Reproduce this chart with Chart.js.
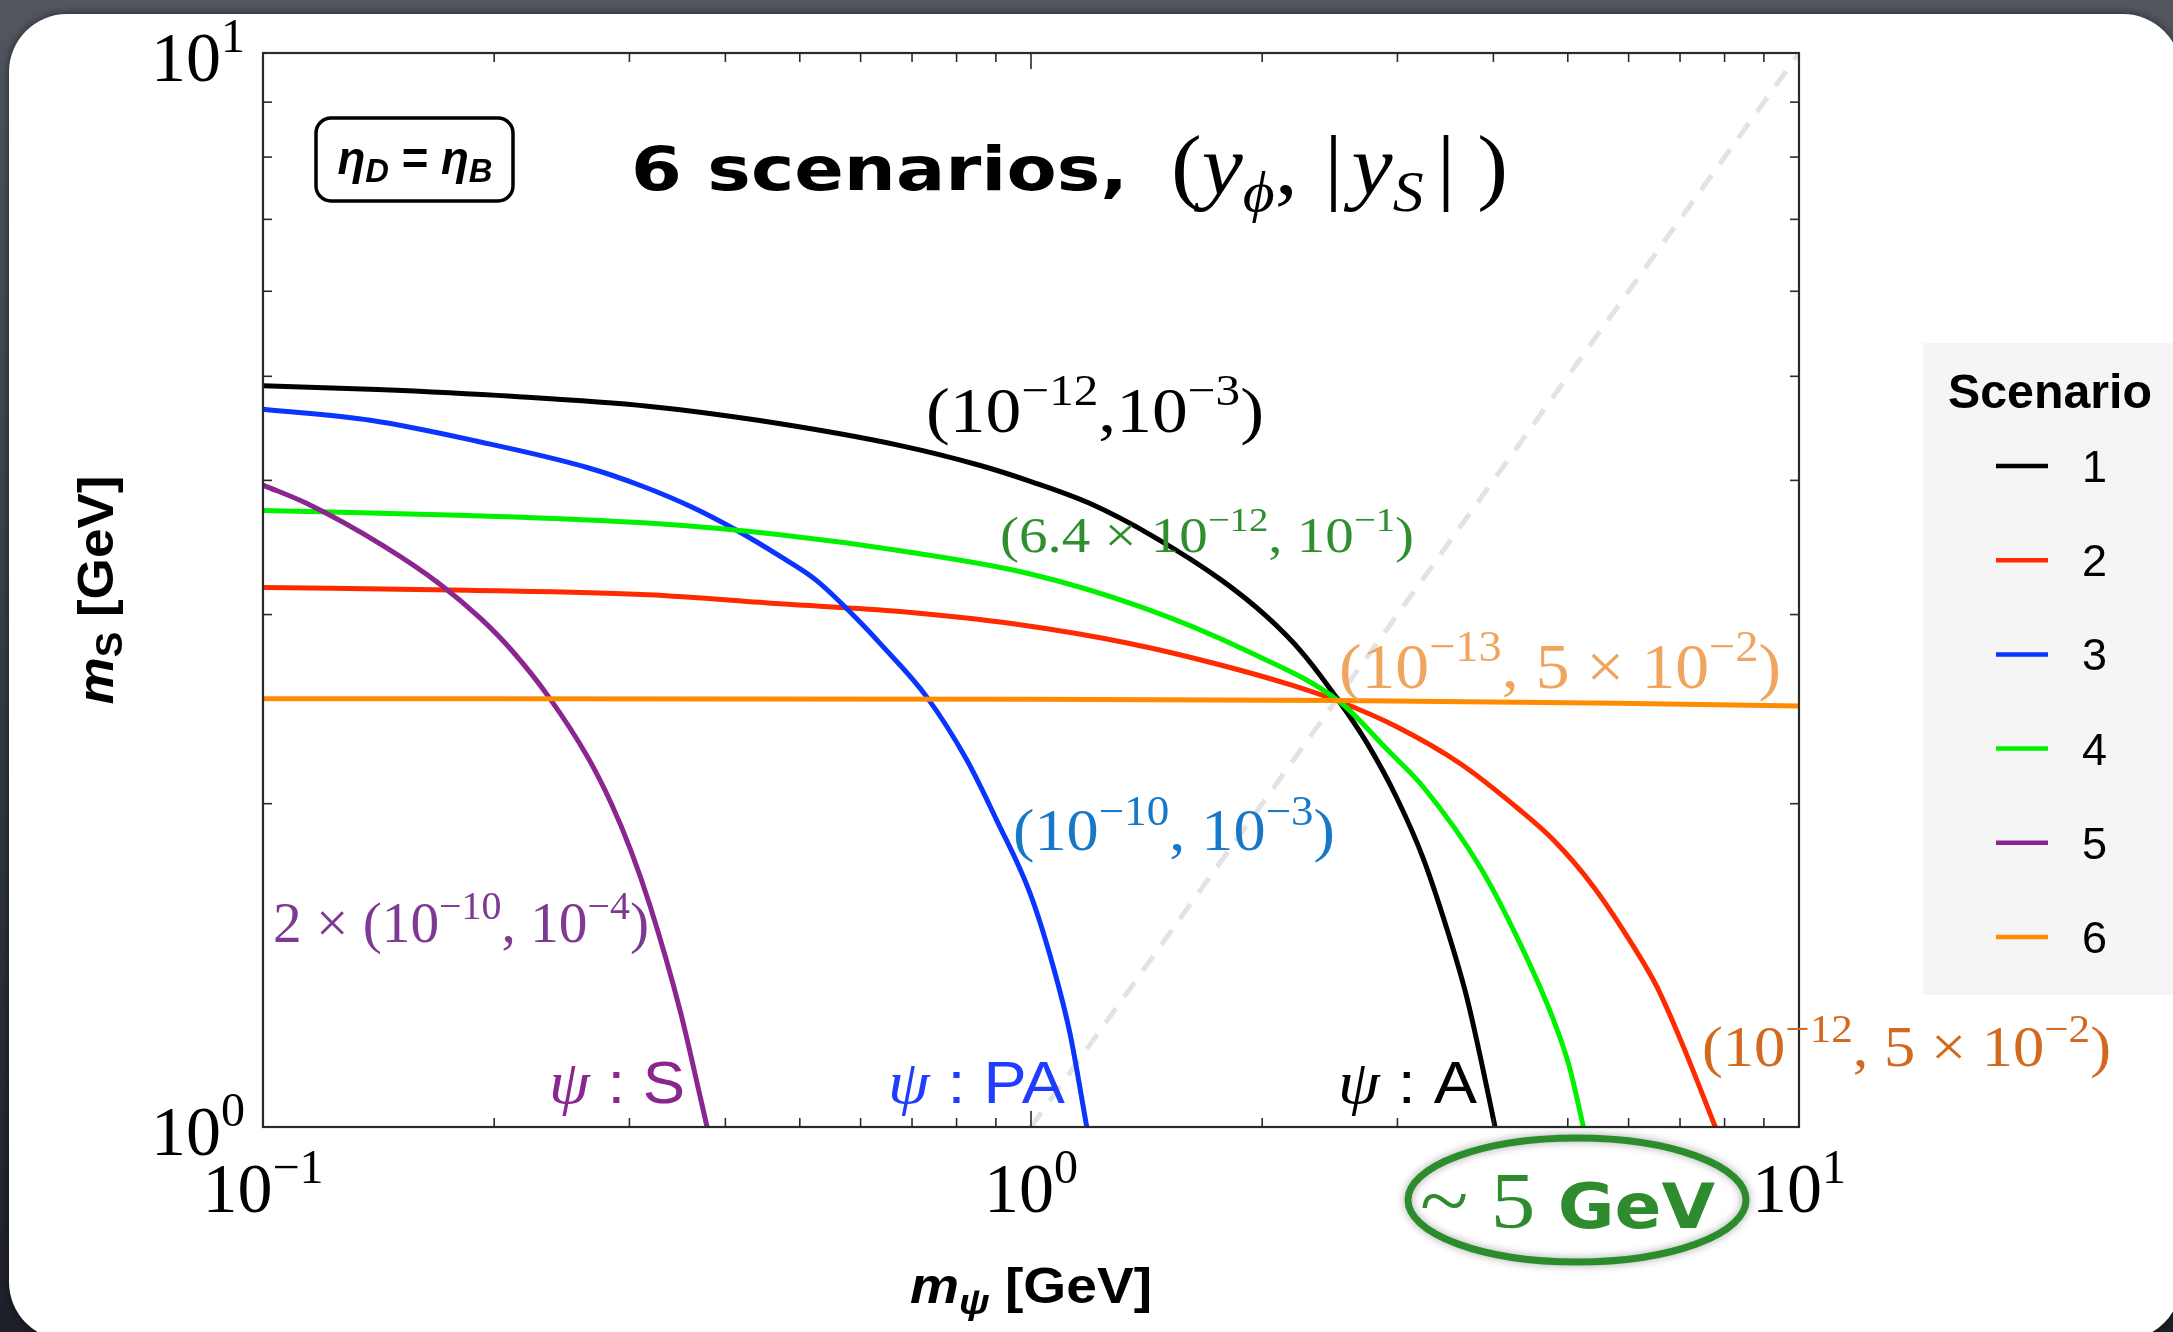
<!DOCTYPE html>
<html>
<head>
<meta charset="utf-8">
<script src="https://cdn.jsdelivr.net/npm/chart.js@4.4.1/dist/chart.umd.min.js"></script>
<style>
  html, body { margin: 0; padding: 0; background: #2c3038; overflow: hidden; }
  canvas { display: block; }
</style>
</head>
<body>
<canvas id="c" width="2173" height="1332"></canvas>
<script>
// Curves of m_S versus m_psi (both in GeV) for the six coupling scenarios
const s1X = [0.1, 0.141, 0.211, 0.317, 0.441, 0.676, 0.859, 1.0, 1.19, 1.44, 1.77, 2.03, 2.25, 2.52, 2.74, 2.99, 3.24, 3.48, 3.69, 3.86, 4.02];
const s1Y = [4.90, 4.86, 4.79, 4.69, 4.55, 4.31, 4.13, 3.99, 3.81, 3.55, 3.23, 2.985, 2.77, 2.49, 2.276, 2.029, 1.78, 1.529, 1.324, 1.149, 1.0];

const s2X = [0.1, 0.185, 0.317, 0.471, 0.676, 0.953, 1.344, 1.74, 2.18, 2.52, 2.99, 3.62, 4.33, 4.79, 5.40, 6.09, 6.53, 7.07, 7.78];
const s2Y = [3.18, 3.16, 3.13, 3.07, 3.02, 2.94, 2.82, 2.70, 2.58, 2.49, 2.36, 2.18, 1.973, 1.85, 1.674, 1.472, 1.351, 1.188, 1.0];

const s3X = [0.1, 0.138, 0.19, 0.265, 0.312, 0.361, 0.412, 0.471, 0.525, 0.608, 0.636, 0.731, 0.825, 0.902, 0.997, 1.069, 1.124, 1.182];
const s3Y = [4.66, 4.55, 4.35, 4.11, 3.95, 3.78, 3.60, 3.40, 3.23, 2.92, 2.82, 2.516, 2.196, 1.931, 1.651, 1.41, 1.222, 1.0];

const s4X = [0.1, 0.185, 0.317, 0.471, 0.676, 0.986, 1.39, 1.90, 2.52, 2.92, 3.24, 3.84, 4.33, 4.79, 5.02, 5.24];
const s4Y = [3.75, 3.71, 3.65, 3.56, 3.44, 3.28, 3.05, 2.78, 2.49, 2.24, 2.074, 1.748, 1.483, 1.258, 1.14, 1.0];

const s5X = [0.1, 0.1141, 0.1433, 0.1705, 0.1923, 0.211, 0.235, 0.265, 0.2838, 0.3014, 0.3191, 0.3491, 0.3717, 0.3786];
const s5Y = [3.96, 3.806, 3.478, 3.197, 2.972, 2.776, 2.52, 2.207, 2.004, 1.808, 1.607, 1.285, 1.06, 1.0];

const s6X = [0.1, 1, 2.52, 5, 10, 10.2];
const s6Y = [2.505, 2.502, 2.495, 2.483, 2.466, 2.465];

// m_S = m_psi reference line
const diagX = [1, 10];
const diagY = [1, 10];

const scenarioNames = ['1', '2', '3', '4', '5', '6'];
const scenarioColors = ['#000000', '#ff2a00', '#0a35ff', '#00f200', '#8b2590', '#ff8c00'];

// Decade tick labels (10^exponent)
const xTickValues = [0.1, 1, 10];
const xTickExps = ['\u22121', '0', '1'];
const yTickValues = [1, 10];
const yTickExps = ['0', '1'];

const SERIF = '"Liberation Serif", "Times New Roman", serif';
const SANS = '"Liberation Sans", Arial, sans-serif';
const HAND = '"DejaVu Sans", sans-serif';

function pts(xs, ys) { return xs.map((x, i) => ({ x: x, y: ys[i] })); }

// Draw a run of text pieces (with sub/superscripts) from a baseline point,
// optionally squeezed to a given total width.
function drawParts(ctx, parts, x, y, o) {
  o = o || {};
  ctx.save();
  let w = 0;
  for (const p of parts) {
    ctx.font = p.f;
    p.w = ctx.measureText(p.t).width + (p.gap || 0);
    w += p.w;
  }
  const sx = o.width ? o.width / w : 1;
  const tw = w * sx;
  ctx.translate(x, y);
  if (o.rotate) ctx.rotate(o.rotate);
  const x0 = o.align === 'center' ? -tw / 2 : (o.align === 'right' ? -tw : 0);
  ctx.translate(x0, 0);
  ctx.scale(sx, 1);
  ctx.textAlign = 'left';
  ctx.textBaseline = 'alphabetic';
  let cx = 0;
  for (const p of parts) {
    ctx.font = p.f;
    ctx.fillStyle = p.c || o.color || '#000';
    ctx.fillText(p.t, cx, p.dy || 0);
    cx += p.w;
  }
  ctx.restore();
}

const F = (size, fam, style) => (style ? style + ' ' : '') + size + 'px ' + fam;

// "(10^a, 10^b)"-style coupling labels
function coupling(pre, e1, mid, e2, post, main, sup, raise) {
  return [
    { t: pre, f: F(main, SERIF) },
    { t: e1, f: F(sup, SERIF), dy: -raise },
    { t: mid, f: F(main, SERIF) },
    { t: e2, f: F(sup, SERIF), dy: -raise },
    { t: post, f: F(main, SERIF) }
  ];
}

const decor = {
  id: 'decor',
  beforeDraw(chart) {
    const ctx = chart.ctx;
    const W = chart.width, H = chart.height;
    ctx.save();
    const g = ctx.createLinearGradient(0, 0, 0, H);
    g.addColorStop(0, '#51565f');
    g.addColorStop(1, '#1d2028');
    ctx.fillStyle = g;
    ctx.fillRect(0, 0, W, H);
    ctx.shadowColor = 'rgba(0,0,0,0.55)';
    ctx.shadowBlur = 8;
    ctx.fillStyle = '#ffffff';
    ctx.beginPath();
    ctx.roundRect(9, 14, 2172, 1326, 58);
    ctx.fill();
    ctx.restore();
  },
  afterDatasetsDraw(chart) {
    const ctx = chart.ctx;
    const a = chart.chartArea;
    const xs = chart.scales.x, ys = chart.scales.y;
    ctx.save();

    // frame ticks (inward, on all four sides)
    const line = (x1, y1, x2, y2) => { ctx.beginPath(); ctx.moveTo(x1, y1); ctx.lineTo(x2, y2); ctx.stroke(); };
    ctx.strokeStyle = '#2a2a2a';
    ctx.lineWidth = 1.6;
    for (const d of [0.1, 1]) {
      for (let k = 2; k <= 9; k++) {
        const px = xs.getPixelForValue(d * k);
        line(px, a.bottom, px, a.bottom - 9);
        line(px, a.top, px, a.top + 9);
      }
    }
    for (const v of xTickValues) {
      const px = xs.getPixelForValue(v);
      line(px, a.bottom, px, a.bottom - 16);
      line(px, a.top, px, a.top + 16);
    }
    for (let k = 2; k <= 9; k++) {
      const py = ys.getPixelForValue(k);
      line(a.left, py, a.left + 9, py);
      line(a.right, py, a.right - 9, py);
    }
    ctx.lineWidth = 2.2;
    ctx.strokeRect(a.left, a.top, a.right - a.left, a.bottom - a.top);

    // tick labels
    xTickValues.forEach((v, i) => {
      drawParts(ctx, [
        { t: '10', f: F(70, SERIF) },
        { t: xTickExps[i], f: F(48, SERIF), dy: -29 }
      ], xs.getPixelForValue(v), a.bottom + 85, { align: 'center' });
    });
    yTickValues.forEach((v, i) => {
      drawParts(ctx, [
        { t: '10', f: F(70, SERIF) },
        { t: yTickExps[i], f: F(48, SERIF), dy: -29 }
      ], a.left - 18, ys.getPixelForValue(v) + 28, { align: 'right' });
    });

    // axis titles
    drawParts(ctx, [
      { t: 'm', f: F(50, SANS, 'italic bold') },
      { t: '\u03c8', f: F(36, SANS, 'italic bold'), dy: 11 },
      { t: ' [GeV]', f: F(50, SANS, 'bold') }
    ], (a.left + a.right) / 2, 1303, { align: 'center', width: 242 });
    drawParts(ctx, [
      { t: 'm', f: F(50, SANS, 'italic bold') },
      { t: 'S', f: F(36, SANS, 'bold'), dy: 9 },
      { t: ' [GeV]', f: F(50, SANS, 'bold') }
    ], 113, (a.top + a.bottom) / 2, { align: 'center', width: 229, rotate: -Math.PI / 2 });

    // title
    drawParts(ctx, [{ t: '6 scenarios,', f: F(60, HAND, 'bold') }], 631, 190, { width: 497 });
    drawParts(ctx, [
      { t: '(', f: F(84, SERIF) },
      { t: 'y', f: F(84, SERIF, 'italic') },
      { t: '\u03d5', f: F(56, SERIF, 'italic'), dy: 17 },
      { t: ',', f: F(84, SERIF), gap: 24 },
      { t: '|', f: F(84, SERIF), gap: 8 },
      { t: 'y', f: F(84, SERIF, 'italic') },
      { t: 'S', f: F(56, SERIF, 'italic'), dy: 17, gap: 12 },
      { t: '|', f: F(84, SERIF), gap: 20 },
      { t: ')', f: F(84, SERIF) }
    ], 1171, 194, { width: 337 });

    // eta box
    ctx.lineWidth = 3.5;
    ctx.strokeStyle = '#000';
    ctx.beginPath();
    ctx.roundRect(316, 118, 197, 83, 15);
    ctx.stroke();
    drawParts(ctx, [
      { t: '\u03b7', f: F(46, SANS, 'italic bold') },
      { t: 'D', f: F(33, SANS, 'italic bold'), dy: 8 },
      { t: ' = ', f: F(46, SANS, 'bold') },
      { t: '\u03b7', f: F(46, SANS, 'italic bold') },
      { t: 'B', f: F(33, SANS, 'italic bold'), dy: 8 }
    ], 415, 174, { align: 'center', width: 155 });

    // coupling labels next to the curves
    const M = '\u2212';
    drawParts(ctx, coupling('(10', M + '12', ',10', M + '3', ')', 64, 44, 27), 926, 432, { width: 338, color: '#000' });
    drawParts(ctx, coupling('(6.4 \u00d7 10', M + '12', ', 10', M + '1', ')', 50, 34, 21), 1000, 552, { width: 414, color: '#2f8f2f' });
    drawParts(ctx, coupling('(10', M + '13', ', 5 \u00d7 10', M + '2', ')', 64, 44, 27), 1339, 688, { width: 442, color: '#f0a55e' });
    drawParts(ctx, coupling('(10', M + '10', ', 10', M + '3', ')', 60, 42, 25), 1013, 850, { width: 322, color: '#1878c8' });
    drawParts(ctx, coupling('2 \u00d7 (10', M + '10', ', 10', M + '4', ')', 56, 39, 23), 273, 942, { width: 376, color: '#7e3a92' });
    drawParts(ctx, coupling('(10', M + '12', ', 5 \u00d7 10', M + '2', ')', 58, 40, 24), 1702, 1066, { width: 409, color: '#d2691e' });

    // particle-type labels
    const psi = (tail, x, w, c) => drawParts(ctx, [
      { t: '\u03c8', f: F(62, SERIF, 'italic') },
      { t: ' : ', f: F(60, SANS) },
      { t: tail, f: F(60, SANS) }
    ], x, 1103, { width: w, color: c });
    psi('S', 549, 136, '#8b2590');
    psi('PA', 888, 177, '#1f3cff');
    psi('A', 1338, 139, '#000');

    // "~ 5 GeV" highlight
    ctx.save();
    ctx.shadowColor = 'rgba(0,0,0,0.35)';
    ctx.shadowBlur = 8;
    ctx.strokeStyle = '#2a8c2a';
    ctx.lineWidth = 7;
    ctx.beginPath();
    ctx.ellipse(1577, 1200, 169, 62, 0, 0, Math.PI * 2);
    ctx.stroke();
    ctx.restore();
    drawParts(ctx, [
      { t: '~ ', f: F(80, SERIF) },
      { t: '5 ', f: F(80, SERIF) },
      { t: 'GeV', f: F(62, HAND, 'bold') }
    ], 1420, 1228, { width: 295, color: '#2e8b2e' });

    // legend panel
    ctx.fillStyle = '#f5f5f5';
    ctx.fillRect(1923, 343, 260, 652);
    drawParts(ctx, [{ t: 'Scenario', f: F(48, SANS, 'bold') }], 2050, 408, { align: 'center', width: 204 });
    const entries = chart.data.datasets.filter(d => d.isScenario);
    entries.forEach((d, i) => {
      const cy = 466 + i * 94.2;
      ctx.strokeStyle = d.borderColor;
      ctx.lineWidth = 4.5;
      ctx.beginPath();
      ctx.moveTo(1996, cy);
      ctx.lineTo(2048, cy);
      ctx.stroke();
      drawParts(ctx, [{ t: d.label, f: F(45, SANS) }], 2082, cy + 16, { color: '#000' });
    });

    ctx.restore();
  }
};

const seriesX = [s1X, s2X, s3X, s4X, s5X, s6X];
const seriesY = [s1Y, s2Y, s3Y, s4Y, s5Y, s6Y];

const datasets = scenarioNames.map((name, i) => ({
  label: name,
  isScenario: true,
  data: pts(seriesX[i], seriesY[i]),
  borderColor: scenarioColors[i],
  backgroundColor: scenarioColors[i],
  borderWidth: 5,
  showLine: true,
  pointRadius: 0,
  fill: false,
  cubicInterpolationMode: 'monotone',
  order: 6 - i,
  clip: { left: 4, top: 4, right: 9, bottom: 6 }
}));

datasets.push({
  label: 'diagonal',
  isScenario: false,
  data: pts(diagX, diagY),
  borderColor: '#e3e3e3',
  borderWidth: 5,
  borderDash: [18, 14],
  showLine: true,
  pointRadius: 0,
  fill: false,
  order: 20
});

new Chart(document.getElementById('c'), {
  type: 'scatter',
  data: { datasets: datasets },
  options: {
    responsive: false,
    animation: false,
    devicePixelRatio: 1,
    layout: { padding: { left: 263, right: 374, top: 53, bottom: 205 } },
    plugins: { legend: { display: false }, tooltip: { enabled: false } },
    scales: {
      x: { type: 'logarithmic', min: 0.1, max: 10, display: false },
      y: { type: 'logarithmic', min: 1, max: 10, display: false }
    }
  },
  plugins: [decor]
});
</script>
</body>
</html>
